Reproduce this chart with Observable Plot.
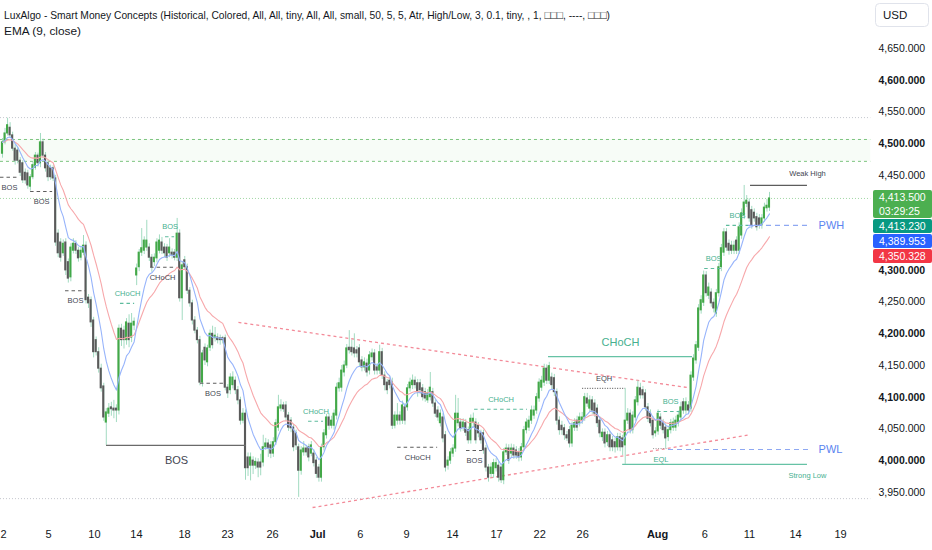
<!DOCTYPE html>
<html><head><meta charset="utf-8">
<script src="https://cdn.jsdelivr.net/npm/d3@7"></script>
<script src="https://cdn.jsdelivr.net/npm/@observablehq/plot@0.6"></script>
<style>
html,body{margin:0;padding:0;background:#fff;overflow:hidden}
#chart{width:932px;height:550px}
</style></head><body><div id="chart"></div>
<script>
// ---- candle data (4h bars) ----
const opens = [4484,4502,4516,4525,4513,4492,4489,4473,4469,4454,
4453,4432,4447,4462,4481,4469,4502,4481,4469,4461,
4461,4445,4358,4344,4327,4344,4313,4289,4331,4342,
4331,4320,4328,4339,4257,4253,4221,4190,4171,4145,
4117,4060,4074,4084,4082,4082,4079,4208,4205,4190,
4216,4194,4213,4292,4305,4328,4331,4336,4336,4320,
4313,4319,4331,4344,4336,4336,4327,4328,4328,4320,
4358,4256,4316,4305,4268,4248,4221,4205,4190,4123,
4178,4155,4178,4200,4193,4194,4193,4193,4193,4115,
4111,4119,4126,4111,4095,4063,4074,4005,3992,4000,
3992,
3997,3997,3997,4021,4027,4024,4011,4029,4052,4082,
4087,
4087,4071,4063,4052,4043,4021,3984,4013,
4019,
4021,4011,4011,4000,3989,3973,4021,4040,4068,4055,4055,4071,
4114,4115,4139,4150,4178,4178,4177,4174,4177,4158,
4147,4153,4142,4163,4169,4147,4142,4171,4134,4123,
4126,4123,4055,4063,4071,4063,4084,4084,4114,4119,
4126,4122,4122,4114,4108,4095,4100,4108,4090,4079,
4059,4068,4040,3992,4000,4011,4019,4059,4060,4052,
4059,4048,4032,4060,4060,4055,4043,4043,4019,3989,
3979,3979,3988,3992,3989,3969,4013,4019,4011,4019,
4016,4013,4005,4021,4048,4052,4063,4071,4079,4098,
4115,4123,4145,4126,4131,4130,4108,4063,4055,4051,
4040,
4048,4027,4052,4063,4059,4063,4068,4098,4082,4095,
4090,4082,4063,4037,4044,4029,4040,4032,4029,4021,
4037,4035,4024,4063,4074,4048,4068,4092,4114,4111,
4106,4084,4074,4063,4043,4046,4068,
4059,4052,4037,4048,4052,4052,4059,4068,4092,4079,4087,4082,
4131,4158,4178,4237,4249,4292,
4260,4265,4249,
4232,4264,4305,4328,4360,4342,4339,4331,
4347,4331,4355,4387,4405,4407,4395,4391,4384,4382,4371,4382,4398,4399];

const highs = [4508,4524,4540,4533,4518,4498,4494,4478,4473,4460,
4458,4451,4470,4486,4485,4516,4507,4486,4474,4466,
4465,4450,4364,4350,4348,4350,4318,4342,4350,4347,
4336,4338,4355,4345,4262,4258,4226,4195,4178,4152,
4122,4082,4090,4092,4095,4088,4214,4215,4212,4224,
4230,4232,4225,4310,4333,4366,4353,4379,4342,4325,
4326,4350,4356,4352,4342,4341,4350,4334,4333,4382,
4364,4313,4322,4310,4273,4253,4227,4210,4196,4174,
4184,4182,4206,4212,4210,4200,4198,4196,4198,4120,
4137,4140,4132,4117,4100,4082,4080,4012,4012,4006,
4004,
4003,4010,4040,4035,4033,4030,4036,4065,4103,4096,
4092,
4093,4076,4068,4057,4048,4026,4022,4030,
4024,
4026,4030,4017,4005,3994,4026,4049,4073,4074,4070,4080,4122,
4130,4150,4157,4183,4205,4190,4200,4180,4183,4164,
4162,4160,4172,4176,4175,4153,4182,4177,4140,4128,
4132,4130,4077,4090,4077,4094,4090,4120,4130,4135,
4132,4128,4128,4120,4114,4112,4139,4114,4096,4085,
4080,4074,4046,4006,4019,4025,4103,4098,4066,4066,
4065,4053,4072,4075,4066,4060,4048,4048,4024,3994,
3996,4002,4003,3998,3994,4019,4026,4025,4026,4025,
4022,4019,4027,4054,4066,4070,4086,4086,4106,4129,
4133,4152,4151,4155,4138,4136,4113,4069,4062,4057,
4046,
4054,4061,4066,4070,4075,4076,4106,4106,4102,4101,
4096,4088,4069,4050,4050,4046,4046,4038,4035,4043,
4043,4040,4114,4082,4080,4077,4101,4126,4122,4117,
4112,4090,4080,4069,4052,4080,4074,
4065,4058,4054,4065,4067,4070,4078,4092,4098,4099,4093,4140,
4167,4188,4246,4260,4299,4298,
4280,4271,4255,
4270,4311,4341,4366,4366,4348,4346,4346,
4353,4375,4397,4434,4418,4413,4401,4397,4390,4388,4388,4406,4412,4423];

const lows = [4477,4498,4512,4508,4488,4466,4468,4448,4437,4436,
4428,4425,4443,4458,4463,4462,4476,4455,4440,4442,
4440,4338,4320,4313,4322,4292,4280,4282,4326,4325,
4313,4315,4323,4247,4240,4210,4162,4165,4138,4108,
4062,4024,4068,4070,4066,4060,4072,4180,4176,4182,
4178,4186,4205,4276,4298,4322,4325,4330,4314,4297,
4306,4312,4326,4325,4320,4314,4320,4318,4315,4314,
4250,4221,4300,4262,4242,4214,4200,4184,4118,4116,
4150,4148,4172,4176,4187,4184,4182,4184,4110,4098,
4104,4113,4104,4088,4056,4058,3969,3975,3968,3978,
3986,
3973,3976,3990,4016,4005,4003,4005,4024,4046,4077,
4076,
4062,4046,4044,4014,4016,3942,3977,4007,
4007,
3998,4006,3990,3972,3966,3966,4015,4034,4048,4050,4048,4064,
4108,4108,4132,4145,4168,4165,4162,4162,4148,4140,
4141,4132,4135,4157,4135,4135,4136,4128,4110,4104,
4113,4049,4050,4056,4056,4057,4056,4078,4108,4112,
4113,4100,4104,4094,4092,4090,4094,4084,4068,4062,
4053,4028,3982,3985,3994,4005,4013,4053,4045,4046,
4038,4026,4026,4054,4026,4036,4026,4010,3982,3966,
3973,3972,3982,3966,3964,3962,4008,3994,4005,4002,
4002,3998,3999,4015,4042,4046,4057,4065,4073,4092,
4109,4117,4120,4120,4112,4101,4056,4040,4040,4032,
4030,
4020,4021,4046,4046,4053,4057,4062,4084,4076,4073,
4068,4052,4036,4030,4020,4022,4014,4014,4012,4015,
4014,4008,3994,4057,4042,4042,4062,4086,4097,4097,
4078,4060,4053,4034,4037,4040,4049,
4042,4019,4030,4042,4046,4046,4053,4062,4073,4073,4073,4076,
4125,4152,4172,4231,4243,4258,
4254,4242,4233,
4226,4258,4298,4322,4330,4324,4325,4325,
4325,4325,4349,4380,4399,4376,4365,4376,4362,4365,4365,4376,4392,4393];

const closes = [4502,4516,4529,4513,4492,4473,4473,4454,4442,4442,
4434,4447,4466,4481,4469,4502,4481,4461,4447,4447,
4445,4344,4327,4320,4342,4300,4287,4336,4342,4331,
4319,4331,4339,4253,4248,4218,4171,4171,4145,4114,
4068,4076,4082,4081,4079,4079,4208,4190,4190,4218,
4190,4216,4219,4303,4328,4335,4347,4347,4320,4305,
4320,4344,4347,4331,4327,4320,4336,4324,4320,4358,
4256,4308,4305,4268,4248,4221,4205,4190,4123,4169,
4158,4177,4200,4182,4197,4190,4190,4190,4115,4106,
4131,4131,4111,4095,4063,4074,3988,3988,4005,3992,
3998,
3989,3989,4021,4027,4019,4011,4029,4059,4084,4087,
4081,
4068,4052,4051,4021,4024,3984,4016,4019,
4013,
4005,4024,3996,3979,3973,4021,4043,4068,4055,4063,4074,4115,
4122,4142,4150,4177,4174,4171,4169,4169,4155,4147,
4155,4139,4166,4169,4142,4142,4171,4134,4119,4111,
4119,4055,4071,4071,4063,4087,4063,4114,4123,4126,
4119,4108,4111,4100,4098,4106,4115,4090,4074,4068,
4074,4035,3989,4000,4013,4019,4074,4074,4051,4060,
4044,4032,4066,4066,4032,4043,4032,4016,3989,3973,
3989,3996,3996,3973,3969,4013,4019,4000,4019,4008,
4008,4005,4021,4048,4060,4063,4079,4079,4100,4123,
4126,4145,4126,4149,4119,4108,4063,4048,4048,4040,
4035,
4027,4055,4059,4052,4068,4068,4100,4090,4095,4079,
4074,4059,4043,4044,4027,4040,4021,4021,4021,4037,
4021,4021,4063,4074,4048,4071,4095,4115,4103,4103,
4084,4066,4059,4040,4046,4074,4055,
4048,4035,4048,4059,4060,4063,4071,4084,4079,4092,4079,4134,
4161,4182,4240,4253,4292,4264,
4273,4248,4240,
4264,4305,4335,4360,4336,4331,4331,4339,
4331,4368,4390,4407,4410,4382,4371,4382,4368,4371,4382,4399,4402,4413.5];

// ---- x axis (bar index where each date label sits) ----
const dateLabels = ["2","5","10","14","18","23","26","Jul","6","9","14","17","22","26","Aug","6","11","14","19"];
const dateBars   = [0.4,18.2,36.3,52.9,71.9,88.9,106.7,124.5,141.4,159.6,177.8,195.2,212.2,229.2,258.8,277.4,295.1,313.3,331.1];

// ---- y axis ticks ----
const priceTicks = [3950,4000,4050,4100,4150,4200,4250,4300,4350,4400,4450,4500,4550,4600,4650];

// ---- market structure (LuxAlgo SMC) ----
const structText  = ["BOS","BOS","BOS","BOS","CHoCH","BOS","CHoCH","BOS","CHoCH","CHoCH","BOS","CHoCH","CHoCH","EQH","BOS","BOS","BOS"];
const structPrice = [4447,4424.5,4268,4024,4248,4353,4305,4122,4062,4021,4016,4081,4164,4114,4077.5,4303,4371];
const structFrom  = [-0.8,11.1,24.9,41.1,46.6,64.4,58.5,78.2,120.9,156.1,183.3,186.5,215.7,229.2,258.8,277.4,286];
const structTo    = [6.3,19.8,32.8,96.4,52.2,68,68,88.1,126.8,171.9,189.6,207.4,272.6,246.1,269.1,284.5,294.7];
const structBias  = ["bear","bear","bear","bear","bull","bull","bear","bear","bull","bear","bear","bull","bull","eq","bull","bull","bull"];
const structSwing = [false,false,false,true,false,false,false,false,false,false,false,false,true,false,false,false,false];

// ---- key levels on the right ----
const levelText  = ["Weak High","PWH","EQL","PWL","Strong Low"];
const levelPrice = [4434,4371,4019,4017.6,3994];
const levelFrom  = [295.5,294.7,257.2,263.1,245];
const levelTo    = [318,318.4,263.1,318.4,318];

// ---- trendlines ----
const trendFromBar = [93.2,122.5], trendFromPrice = [4218,3926];
const trendToBar   = [271,295.5],  trendToPrice   = [4115,4041];

// ---- zones / horizontal references ----
const rangeTop = 4541, rangeBottom = 3940;
const premiumHigh = 4506.5, premiumLow = 4472;
const lastPrice = 4413.5;

// ---- price tags on the axis ----
const tagValues = [4413.5, 4413.23, 4389.953, 4350.328];
const tagColors = ["#4caf50","#089981","#2962ff","#f23645"];
const countdown = "03:29:25";

const header1 = "LuxAlgo - Smart Money Concepts (Historical, Colored, All, All, tiny, All, All, small, 50, 5, 5, Atr, High/Low, 3, 0.1, tiny, , 1, \u25A1\u25A1\u25A1, ----, \u25A1\u25A1\u25A1)";
const header2 = "EMA (9, close)";

// ---- derived tables ----
const candles = closes.map((c,i)=>({i, o:opens[i], h:highs[i], l:lows[i], c}));
function ema(arr,n){const a=2/(n+1);let e=arr[0];return arr.map((v,i)=>(e=i?a*v+(1-a)*e:v));}
const ema9 = ema(closes,9), ema21 = ema(closes,21);
const emaRows = candles.map(d=>({i:d.i, e9:ema9[d.i], e21:ema21[d.i]}));

const struct = structText.map((t,k)=>({t, p:structPrice[k], a:structFrom[k], b:structTo[k], bias:structBias[k], swing:structSwing[k], mid:(structFrom[k]+structTo[k])/2}));
const trends = trendFromBar.map((a,k)=>({a, pa:trendFromPrice[k], b:trendToBar[k], pb:trendToPrice[k]}));
const levels = levelText.map((t,k)=>({t, p:levelPrice[k], a:levelFrom[k], b:levelTo[k]}));
const L = Object.fromEntries(levels.map(d=>[d.t,d]));

const XL = -0.8, XR = 343;
const GREEN_T = "#46b08f", GRAY_T = "#434651";
const fullLines = (vals)=>vals.map(p=>({p}));
const bullLine = s=>s.bias==="bull";
const bearLine = s=>s.bias==="bear";

// y scale (shared) — used to stack axis price tags and hide covered tick labels
const yOpts = {domain: [3950, 4650], range: [491.8, 48]};
const yS = Plot.scale({y: yOpts});
const tagBoxes = [];
{
  let prevBottom = -Infinity;
  tagValues.forEach((v,k)=>{
    const h = k===0 ? 28 : 14;
    const top = Math.max(yS.apply(v) - (k===0?8:7), prevBottom + 1);
    prevBottom = top + h;
    tagBoxes.push({v, k, top, h});
  });
}
const covered = v => { const y = yS.apply(v); return tagBoxes.some(b => y + 6 > b.top && y - 6 < b.top + b.h); };
const shownTicks = priceTicks.filter(v => !covered(v));

const chart = Plot.plot({
  width: 932, height: 550,
  marginTop: 0, marginRight: 0, marginBottom: 0, marginLeft: 0,
  x: {domain: [0, 303], range: [2, 769], axis: null},
  y: {...yOpts, axis: null},
  color: {type: "identity"},
  style: {background: "#fff", fontFamily: "Liberation Sans, Arial, sans-serif", color: "#131722", overflow: "visible"},
  marks: [
    // premium zone
    Plot.rect([{a:premiumLow,b:premiumHigh}], {x1: ()=>XL, x2: ()=>XR, y1: "a", y2: "b", fill: "#4caf50", fillOpacity: 0.045}),
    Plot.ruleY(fullLines([premiumHigh, premiumLow]), {y: "p", x1: ()=>XL, x2: ()=>XR, stroke: "#7cc47f", strokeDasharray: "3,3", strokeWidth: 1}),
    Plot.ruleY(fullLines([rangeTop, rangeBottom]), {y: "p", x1: ()=>XL, x2: ()=>XR, stroke: "#c3c6cd", strokeDasharray: "1,2", strokeWidth: 1}),
    Plot.ruleY(fullLines([lastPrice]), {y: "p", x1: ()=>XL, x2: ()=>XR, stroke: "#9fd6a2", strokeDasharray: "1,2", strokeWidth: 1}),

    // trendlines
    Plot.link(trends, {x1: "a", y1: "pa", x2: "b", y2: "pb", stroke: "#f38a98", strokeDasharray: "3,3", strokeWidth: 1.3}),

    // candles
    Plot.ruleX(candles, {x: "i", y1: "l", y2: "h", stroke: "#a2dbc1", strokeWidth: 1}),
    Plot.rect(candles, {x1: d=>d.i-0.42, x2: d=>d.i+0.42, y1: "o", y2: "c", fill: d=>d.c>=d.o?"#43a848":"#5a5a5a", insetTop: -0.5, insetBottom: -0.5}),

    // EMAs
    Plot.line(emaRows, {x: "i", y: "e21", stroke: "#f7a8ab", strokeWidth: 1.1}),
    Plot.line(emaRows, {x: "i", y: "e9", stroke: "#97b4fb", strokeWidth: 1.1}),

    // structure lines
    Plot.ruleY(struct.filter(s=>!s.swing && s.bias!=="eq"), {y: "p", x1: "a", x2: "b", stroke: s=>s.bias==="bull"?"#5dbb9d":"#5d5d5d", strokeDasharray: "3.5,3", strokeWidth: 1.1}),
    Plot.ruleY(struct.filter(s=>s.swing), {y: "p", x1: "a", x2: "b", stroke: s=>s.bias==="bull"?"#66c2a5":"#6a6a6a", strokeWidth: 1.3}),
    Plot.ruleY(struct.filter(s=>s.bias==="eq"), {y: "p", x1: "a", x2: "b", stroke: "#444", strokeDasharray: "1,1.5", strokeWidth: 1}),
    // structure labels
    Plot.text(struct.filter(s=>!s.swing && bullLine(s)), {x: "mid", y: "p", text: "t", fill: GREEN_T, fontSize: 7.5, dy: -10}),
    Plot.text(struct.filter(s=>!s.swing && bearLine(s)), {x: "mid", y: "p", text: "t", fill: GRAY_T, fontSize: 7.5, dy: 10}),
    Plot.text(struct.filter(s=>s.bias==="eq"), {x: "mid", y: "p", text: "t", fill: GRAY_T, fontSize: 7.5, dy: -10}),
    Plot.text(struct.filter(s=>s.swing && bullLine(s)), {x: "mid", y: "p", text: "t", fill: GREEN_T, fontSize: 11, dy: -14}),
    Plot.text(struct.filter(s=>s.swing && bearLine(s)), {x: "mid", y: "p", text: "t", fill: GRAY_T, fontSize: 11, dy: 15}),

    // right-side levels
    Plot.ruleY([L["Weak High"]], {y: "p", x1: "a", x2: "b", stroke: "#5d5d5d", strokeWidth: 1.2}),
    Plot.text([L["Weak High"]], {x: "b", y: "p", text: "t", fill: GRAY_T, fontSize: 7.5, dy: -12}),
    Plot.ruleY([L["PWH"], L["PWL"]], {y: "p", x1: "a", x2: "b", stroke: "#8ea8f2", strokeDasharray: "5,4", strokeWidth: 1.1}),
    Plot.text([L["PWH"], L["PWL"]], {x: d=>d.b+4, y: "p", text: "t", fill: "#5b84f0", fontSize: 11, textAnchor: "start"}),
    Plot.ruleY([L["EQL"]], {y: "p", x1: "a", x2: "b", stroke: "#9a9a9a", strokeDasharray: "1,1.5", strokeWidth: 1}),
    Plot.text([L["EQL"]], {x: d=>(d.a+d.b)/2, y: "p", text: "t", fill: GREEN_T, fontSize: 7.5, dy: 11}),
    Plot.ruleY([L["Strong Low"]], {y: "p", x1: "a", x2: "b", stroke: "#66c2a5", strokeWidth: 1.2}),
    Plot.text([L["Strong Low"]], {x: "b", y: "p", text: "t", fill: GREEN_T, fontSize: 7.5, dy: 11}),

    // price axis labels (those hidden behind the price tags are not drawn, as on the reference)
    Plot.text(shownTicks.filter(v=>v%100!==0), {y: d=>d, text: d=>d3.format(",.3f")(d), frameAnchor: "right", dx: -54, textAnchor: "start", fill: "#131722", fontSize: 10.5}),
    Plot.text(shownTicks.filter(v=>v%100===0), {y: d=>d, text: d=>d3.format(",.3f")(d), frameAnchor: "right", dx: -54, textAnchor: "start", fill: "#131722", fontSize: 10.5, fontWeight: "bold"}),

    // date labels
    Plot.text(dateLabels.map((t,k)=>({t,x:dateBars[k]})).filter(d=>!/[A-Za-z]/.test(d.t)), {x: "x", text: "t", frameAnchor: "bottom", dy: -13, fill: "#131722", fontSize: 11}),
    Plot.text(dateLabels.map((t,k)=>({t,x:dateBars[k]})).filter(d=>/[A-Za-z]/.test(d.t)), {x: "x", text: "t", frameAnchor: "bottom", dy: -13, fill: "#131722", fontSize: 11, fontWeight: "bold"})
  ]
});

document.getElementById("chart").appendChild(chart);

// ---- overlays: price tags, currency box, header ----
const svg = d3.select(chart);
const tagG = svg.append("g").attr("text-anchor","start").attr("font-family","Liberation Sans, Arial, sans-serif").attr("font-size",10.5).attr("fill","#fff");
tagBoxes.forEach(b=>{
  tagG.append("rect").attr("x",873).attr("y",b.top).attr("width",59).attr("height",b.h).attr("rx",2).attr("fill",tagColors[b.k]);
  tagG.append("text").attr("x",879).attr("y",b.top+7).attr("dominant-baseline","central").text(d3.format(",.3f")(b.v));
  if (b.k===0) tagG.append("text").attr("x",879).attr("y",b.top+21).attr("dominant-baseline","central").text(countdown);
});

const usd = svg.append("g").attr("text-anchor","start");
usd.append("rect").attr("x",875.5).attr("y",3.5).attr("width",53).attr("height",23).attr("rx",4).attr("fill","#fff").attr("stroke","#e0e3eb");
usd.append("text").attr("x",883).attr("y",15).attr("dominant-baseline","central").attr("font-family","Liberation Sans, Arial, sans-serif").attr("font-size",11.5).attr("fill","#131722").text("USD");

const hdr = svg.append("g").attr("text-anchor","start").attr("font-family","Liberation Sans Narrow, Liberation Sans, Arial, sans-serif").attr("font-size",11.5).attr("fill","#131722");
hdr.append("text").attr("x",4).attr("y",15).attr("dominant-baseline","central").attr("textLength",606).attr("lengthAdjust","spacingAndGlyphs").text(header1);
hdr.append("text").attr("x",4).attr("y",31).attr("dominant-baseline","central").attr("textLength",77).attr("lengthAdjust","spacingAndGlyphs").text(header2);
</script>
</body></html>
